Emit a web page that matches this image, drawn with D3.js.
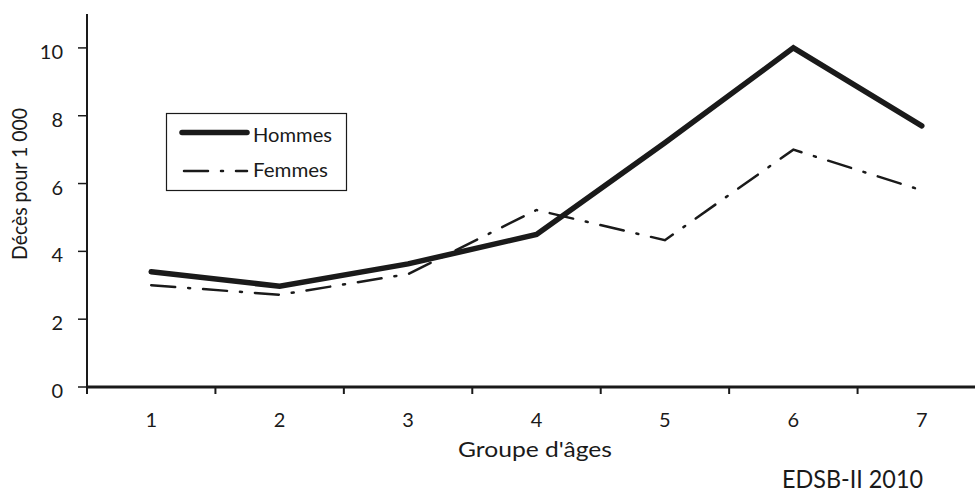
<!DOCTYPE html>
<html><head><meta charset="utf-8">
<script src="https://cdn.jsdelivr.net/npm/d3@7"></script>
<style>body{margin:0;background:#fff}svg{display:block}text{font-family:Lato,"Open Sans",sans-serif;fill:#1a1a1a}</style>
</head><body>
<svg id="c" width="975" height="493"></svg>
<script>
const categories = ["1","2","3","4","5","6","7"];
const hommes = [3.4, 2.97, 3.63, 4.5, 7.2, 10.0, 7.7];
const femmes = [3.0, 2.72, 3.33, 5.22, 4.33, 7.0, 5.8];
const yTicks = [0,2,4,6,8,10];
const seriesNames = ["Hommes","Femmes"];

const svg = d3.select("#c");
const x = d3.scaleBand().domain(categories).range([87, 986]);
const y = d3.scaleLinear().domain([0, 11]).range([387, 14]);
const ink = "#1a1a1a";
const arial = "'Liberation Sans', Arial, sans-serif";

// y axis
svg.append("line").attr("x1",87).attr("x2",87).attr("y1",y(11)).attr("y2",y(0)).attr("stroke",ink).attr("stroke-width",2);
yTicks.forEach(t=>{
  svg.append("line").attr("x1",78).attr("x2",87).attr("y1",y(t)).attr("y2",y(t)).attr("stroke",ink).attr("stroke-width",1.5);
  svg.append("text").attr("x",63).attr("y",y(t)+11).attr("text-anchor","end").attr("font-size",20).text(t);
});
// x axis
svg.append("line").attr("x1",86).attr("x2",986).attr("y1",y(0)).attr("y2",y(0)).attr("stroke",ink).attr("stroke-width",3);
categories.forEach((c,i)=>{
  const xt = x(c);
  svg.append("line").attr("x1",xt).attr("x2",xt).attr("y1",y(0)).attr("y2",y(0)+7).attr("stroke",ink).attr("stroke-width",2);
  svg.append("text").attr("x",x(c)+x.bandwidth()/2).attr("y",427).attr("text-anchor","middle").attr("font-size",20).text(c);
});
svg.append("text").attr("x",458).attr("y",457).attr("font-family",arial).attr("font-size",21)
  .attr("textLength",154).attr("lengthAdjust","spacingAndGlyphs").text("Groupe d'âges");
svg.append("text").attr("transform","translate(27,260) rotate(-90)").attr("font-family",arial).attr("font-size",21)
  .attr("textLength",152).attr("lengthAdjust","spacingAndGlyphs").text("Décès pour 1 000");
svg.append("text").attr("x",782).attr("y",488).attr("font-size",25)
  .attr("textLength",141).attr("lengthAdjust","spacingAndGlyphs").text("EDSB-II 2010");

const line = d3.line().x((d,i)=>x(categories[i])+x.bandwidth()/2).y(d=>y(d));
svg.append("path").attr("d",line(femmes)).attr("fill","none").attr("stroke",ink).attr("stroke-width",2.5)
  .attr("stroke-dasharray","24,13,2,13").attr("stroke-linecap","round");
svg.append("path").attr("d",line(hommes)).attr("fill","none").attr("stroke",ink).attr("stroke-width",5.5)
  .attr("stroke-linejoin","miter").attr("stroke-linecap","round");

// legend
const lg = svg.append("g");
lg.append("rect").attr("x",166.5).attr("y",113.5).attr("width",180).attr("height",77).attr("fill","#fff").attr("stroke",ink).attr("stroke-width",1.2);
lg.append("line").attr("x1",182).attr("x2",247).attr("y1",132.5).attr("y2",132.5).attr("stroke",ink).attr("stroke-width",5.5).attr("stroke-linecap","round");
lg.append("text").attr("x",253).attr("y",142).attr("font-size",19).attr("textLength",79).attr("lengthAdjust","spacingAndGlyphs").text(seriesNames[0]);
lg.append("line").attr("x1",184).attr("x2",247).attr("y1",171).attr("y2",171).attr("stroke",ink).attr("stroke-width",2.5)
  .attr("stroke-dasharray","24,13,2,13").attr("stroke-linecap","round");
lg.append("text").attr("x",253).attr("y",177).attr("font-size",19).attr("textLength",75).attr("lengthAdjust","spacingAndGlyphs").text(seriesNames[1]);
</script>
</body></html>
